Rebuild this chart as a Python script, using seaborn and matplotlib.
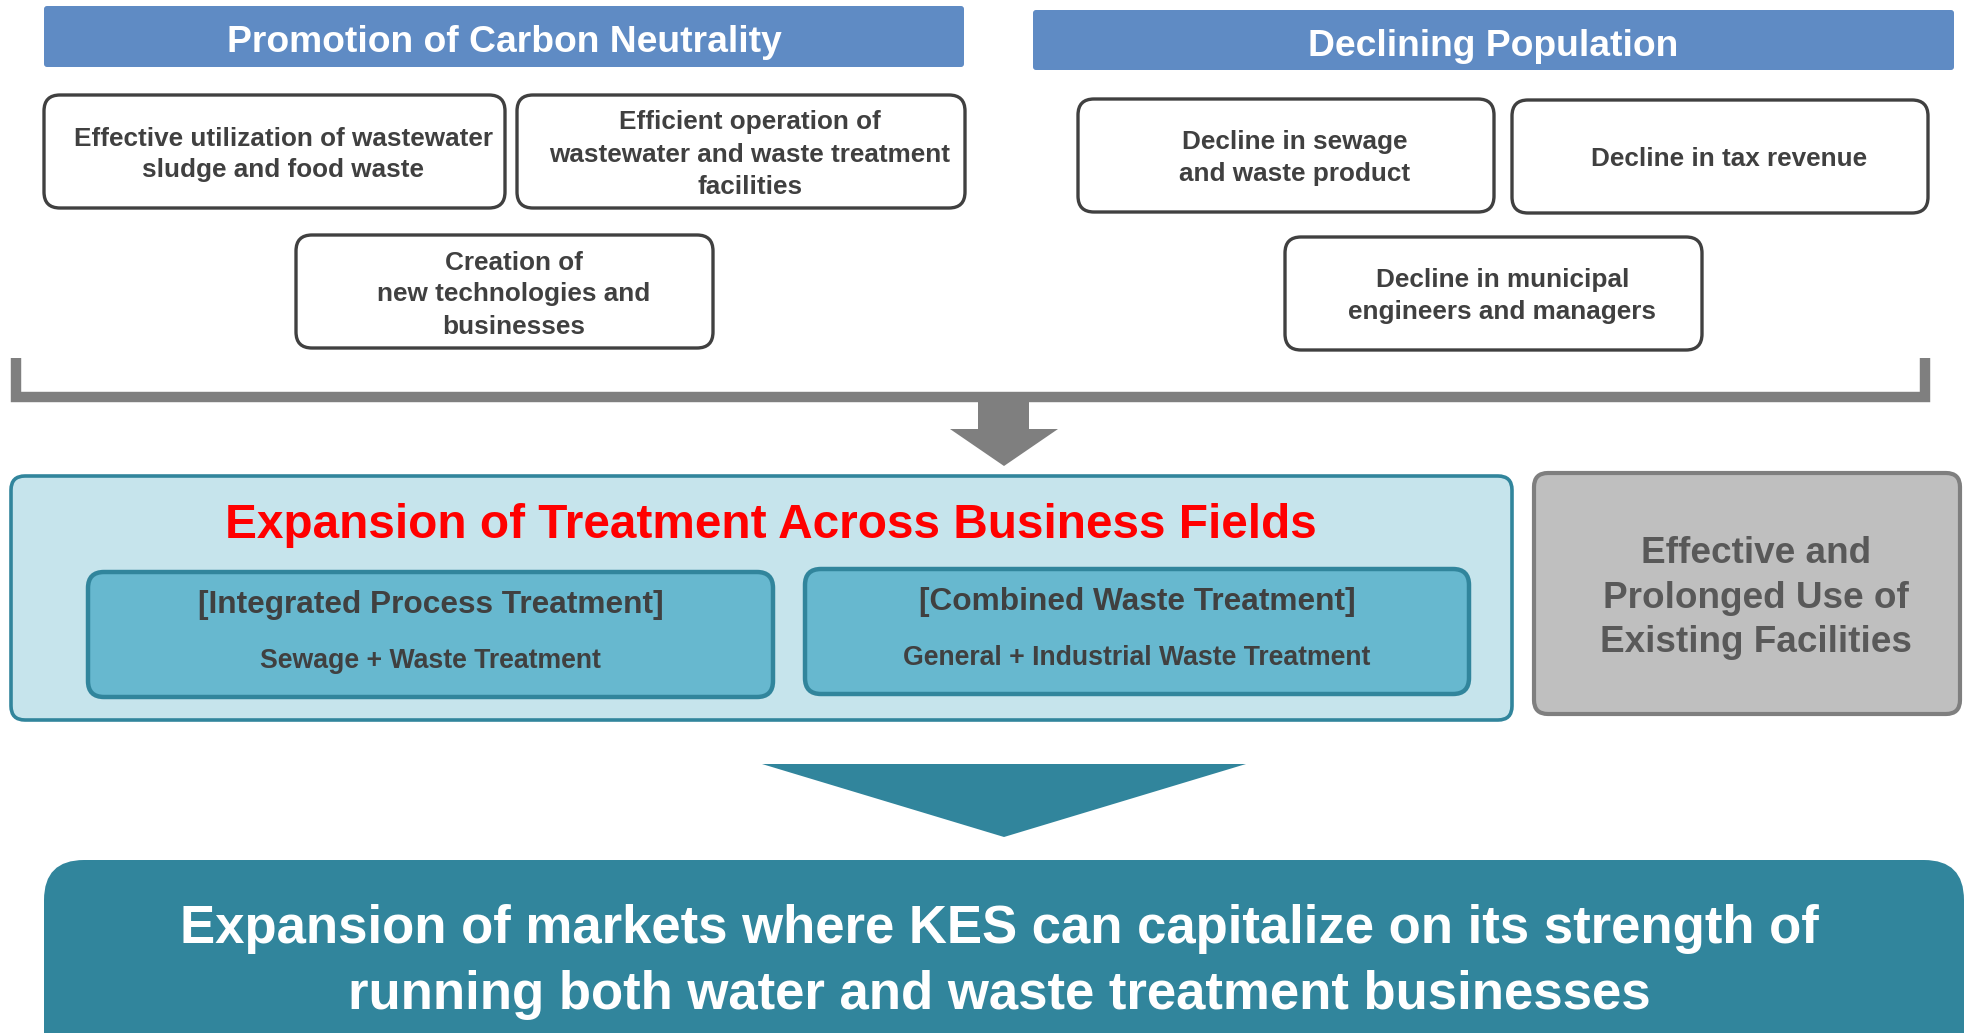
import matplotlib
matplotlib.use("Agg")
import matplotlib.pyplot as plt
from matplotlib.patches import FancyBboxPatch, Polygon
import seaborn as sns

# text content
header_titles = ["Promotion of Carbon Neutrality", "Declining Population"]
carbon_items = [
    ["Effective utilization of wastewater", "sludge and food waste"],
    ["Efficient operation of", "wastewater and waste treatment", "facilities"],
    ["Creation of", "new technologies and", "businesses"],
]
population_items = [
    ["Decline in sewage", "and waste product"],
    ["Decline in tax revenue"],
    ["Decline in municipal", "engineers and managers"],
]
expansion_title = "Expansion of Treatment Across Business Fields"
treatment_heads = ["[Integrated Process Treatment]", "[Combined Waste Treatment]"]
treatment_subs = ["Sewage + Waste Treatment", "General + Industrial Waste Treatment"]
existing_lines = ["Effective and", "Prolonged Use of", "Existing Facilities"]
market_lines = ["Expansion of markets where KES can capitalize on its strength of",
                "running both water and waste treatment businesses"]

# layout (pixel coords, y down)
W, H = 1968, 1033
carbon_boxes = [(44, 95, 461, 113), (517, 95, 448, 113), (296, 235, 417, 113)]
population_boxes = [(1078, 99, 416, 113), (1512, 100, 416, 113), (1285, 237, 417, 113)]
header_boxes = [(44, 6, 920, 61), (1033, 10, 921, 60)]
inner_boxes = [(88, 572, 685, 125), (805, 569, 664, 125)]

BLUE = "#5F8BC4"
TEAL = "#31859C"
LIGHT = "#C6E4EC"
INNER = "#67B8CF"
DARK = "#404040"
DY = 3  # va='center' sits a little high

sns.set_theme(style="white")
plt.rcParams["font.family"] = ["Liberation Sans", "DejaVu Sans"]

fig = plt.figure(figsize=(W / 100, H / 100), dpi=100)
ax = fig.add_axes([0, 0, 1, 1])
ax.set_xlim(0, W)
ax.set_ylim(H, 0)
ax.axis("off")


def rbox(x, y, w, h, fc, ec, lw, r):
    p = FancyBboxPatch((x, y), w, h, boxstyle=f"round,pad=0,rounding_size={r}",
                       fc=fc, ec=ec, lw=lw, zorder=2)
    ax.add_patch(p)


def lines_at(cx, cy, lines, gap, size, color, weight="bold"):
    n = len(lines)
    for i, t in enumerate(lines):
        y = cy + (i - (n - 1) / 2) * gap + DY
        ax.text(cx, y, t, ha="center", va="center", fontsize=size,
                color=color, fontweight=weight, zorder=5)


# headers
for (x, y, w, h), t in zip(header_boxes, header_titles):
    rbox(x, y, w, h, BLUE, "none", 0, 3)
    lines_at(x + w / 2, y + h / 2 + 3, [t], 0, 26.8, "white")

# factor boxes
for (x, y, w, h), t in zip(carbon_boxes + population_boxes, carbon_items + population_items):
    rbox(x, y, w, h, "white", DARK, 2.4, 16)
    lines_at(x + w / 2 + 9, y + h / 2, t, 32, 18.8, DARK)

# bracket + gray arrow
ax.plot([16, 16, 1925, 1925], [358, 397, 397, 358], color="#7F7F7F", lw=7.5,
        solid_joinstyle="miter", solid_capstyle="butt", zorder=2)
ax.add_patch(Polygon([(978, 400), (1029, 400), (1029, 429), (1058, 429),
                      (1004, 466), (950, 429), (978, 429)],
                     closed=True, fc="#7F7F7F", ec="none", zorder=2))

# expansion block
rbox(11, 476, 1501, 244, LIGHT, TEAL, 2.6, 14)
lines_at(771, 522, [expansion_title], 0, 34.4, "#FF0000")
for (x, y, w, h), hd, sb in zip(inner_boxes, treatment_heads, treatment_subs):
    rbox(x, y, w, h, INNER, TEAL, 3.2, 16)
    lines_at(x + w / 2, y + 30, [hd], 0, 22.8, DARK)
    lines_at(x + w / 2, y + 86, [sb], 0, 19.2, DARK)

# existing facilities block
rbox(1534, 473, 426, 241, "#BFBFBF", "#7F7F7F", 3.0, 14)
lines_at(1756, 595, existing_lines, 44.5, 26.6, "#595959")

# teal triangle
ax.add_patch(Polygon([(762, 764), (1246, 764), (1004, 837)], closed=True,
                     fc=TEAL, ec="none", zorder=2))

# bottom block
rbox(44, 860, 1920, 220, TEAL, "none", 0, 40)
lines_at(999, 959, market_lines, 65, 38, "white")

fig.savefig("out.png", dpi=100)
